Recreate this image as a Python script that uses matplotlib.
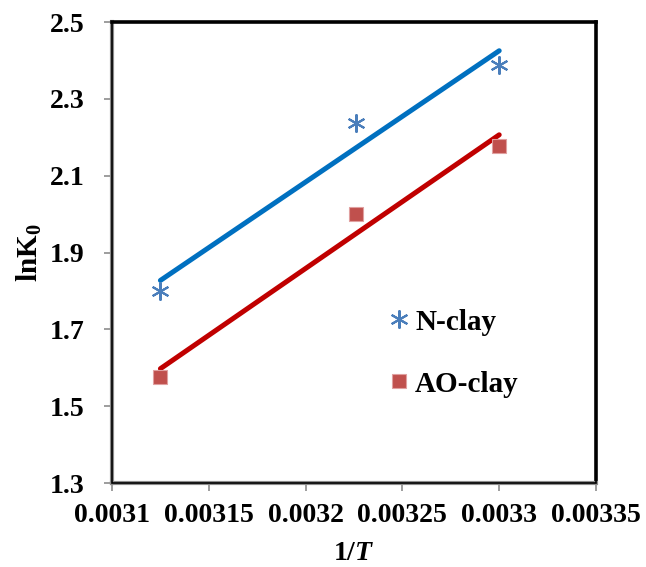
import numpy as np
import matplotlib
matplotlib.use("Agg")
import matplotlib.pyplot as plt
from matplotlib.lines import Line2D
from matplotlib.patches import Rectangle

plt.rcParams['font.family'] = ['Liberation Serif', 'DejaVu Serif']
plt.rcParams['font.weight'] = 'bold'
plt.rcParams['mathtext.fontset'] = 'custom'
plt.rcParams['mathtext.rm'] = 'Liberation Serif:bold'
plt.rcParams['mathtext.bf'] = 'Liberation Serif:bold'
plt.rcParams['mathtext.it'] = 'Liberation Serif:bold:italic'

# Data
inv_T = [0.003125, 0.0032258, 0.0033]
n_clay = [1.80, 2.237, 2.388]
ao_clay = [1.576, 2.00, 2.177]
series_names = ['N-clay', 'AO-clay']
x_ticks = [0.0031, 0.00315, 0.0032, 0.00325, 0.0033, 0.00335]
x_tick_labels = ['0.0031', '0.00315', '0.0032', '0.00325', '0.0033', '0.00335']
y_ticks = [1.3, 1.5, 1.7, 1.9, 2.1, 2.3, 2.5]
y_tick_labels = ['1.3', '1.5', '1.7', '1.9', '2.1', '2.3', '2.5']

fig = plt.figure(figsize=(6.46, 5.67), dpi=100)
ax = fig.add_axes([0.1734, 0.148, 0.7492, 0.813])

x = np.array(inv_T)
xs = np.array([x.min(), x.max()])
for y, lc in [(n_clay, '#0070C0'), (ao_clay, '#C00000')]:
    p = np.polyfit(x, np.array(y), 1)
    ax.plot(xs, np.polyval(p, xs), color=lc, lw=3.6, solid_capstyle='round', zorder=2)

ax.plot(inv_T, n_clay, linestyle='none', marker=(6, 2, 0), ms=13, mew=1.5,
        color='#4A7EBB', zorder=3)
ax.plot(inv_T, ao_clay, linestyle='none', marker='s', ms=10, mew=0.8,
        mfc='#C0504D', mec='#E0A0A0', zorder=3)

ax.set_xlim(0.0031, 0.00335)
ax.set_ylim(1.3, 2.5)
ax.set_xticks(x_ticks)
ax.set_xticklabels(x_tick_labels)
ax.set_yticks(y_ticks)
ax.set_yticklabels(y_tick_labels)
ax.tick_params(axis='both', direction='out', length=6, width=1.2, color='#8C8C8C',
               labelsize=20)
ax.tick_params(axis='y', pad=14)
ax.tick_params(axis='x', pad=8)
for lab in ax.get_xticklabels() + ax.get_yticklabels():
    lab.set_fontweight('bold')

for s in ['top', 'right']:
    ax.spines[s].set_color('black')
    ax.spines[s].set_linewidth(2.6)
for s in ['left', 'bottom']:
    ax.spines[s].set_color('#8C8C8C')
    ax.spines[s].set_linewidth(3.0)
ax.add_patch(Rectangle((0, 0), 1, 1, transform=ax.transAxes, fill=False,
                       ec='black', lw=1.2, zorder=5, clip_on=False))

ax.set_xlabel('1/$T$', fontsize=20, fontweight='bold', labelpad=10)
ax.set_ylabel('lnK$_{0}$', fontsize=21, fontweight='bold', labelpad=4)

handles = [
    Line2D([], [], linestyle='none', marker=(6, 2, 0), ms=13, mew=1.5, color='#4A7EBB'),
    Line2D([], [], linestyle='none', marker='s', ms=10, mew=0.8, mfc='#C0504D', mec='#E0A0A0'),
]
leg = ax.legend(handles, series_names, loc='center left', bbox_to_anchor=(0.515, 0.282),
                frameon=False, labelspacing=1.2, handletextpad=0.15, handlelength=0.8,
                prop={'family': 'Liberation Serif', 'weight': 'bold', 'size': 21})

fig.savefig('out.png', dpi=100)
